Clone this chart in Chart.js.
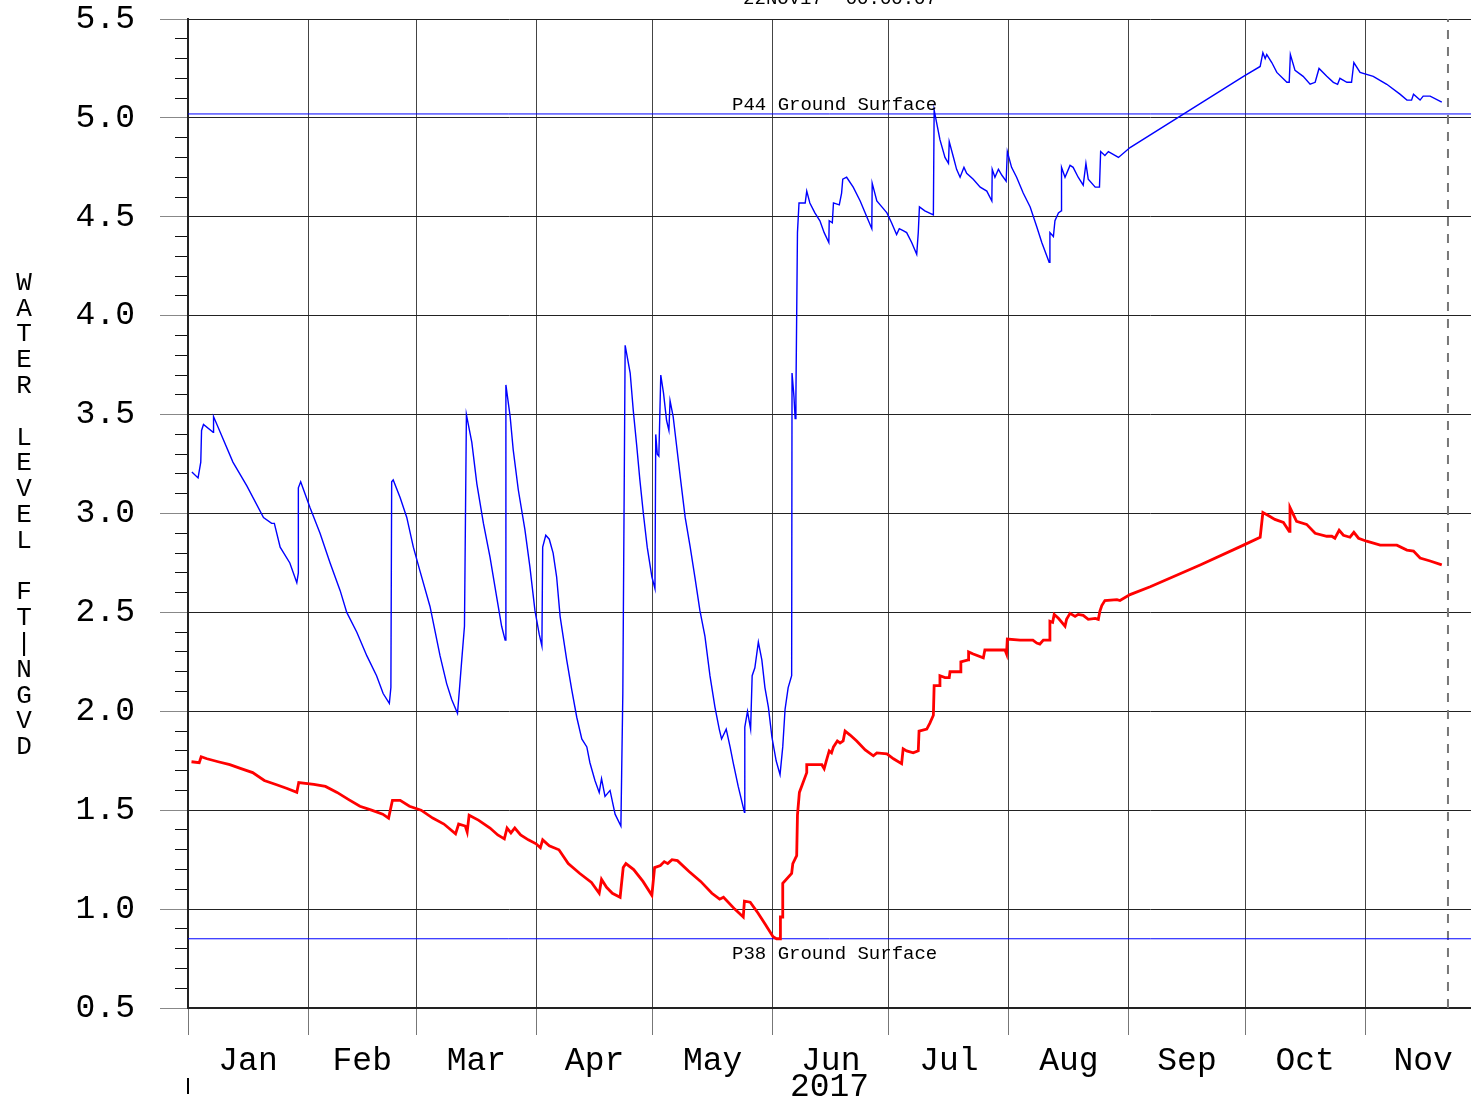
<!DOCTYPE html>
<html>
<head>
<meta charset="utf-8">
<script src="https://cdn.jsdelivr.net/npm/chart.js@4.4.0/dist/chart.umd.min.js"></script>
<style>
html,body{margin:0;padding:0;background:#fff}
canvas{display:block}
</style>
</head>
<body>
<canvas id="c" width="1471" height="1100"></canvas>
<script>
// days are counted from 1 Jan 2017 (day 0)
const monthNames = ['Jan','Feb','Mar','Apr','May','Jun','Jul','Aug','Sep','Oct','Nov']
const monthStarts = [0,31,59,90,120,151,181,212,243,273,304,334]
const yMajor = [0.5,1.0,1.5,2.0,2.5,3.0,3.5,4.0,4.5,5.0,5.5]
const xMax = 331.35
const runStamp = '22NOV17  00:00:07'
const yTitle = 'WATER LEVEL FT-NGVD'
const yearLabel = '2017'

const p44Ground = 5.02
const p38Ground = 0.85
const p44Label = 'P44 Ground Surface'
const p38Label = 'P38 Ground Surface'
const labelDay = 140.5
const cutoffDay = 325.4

const p44Day = [1.0,2.6,3.3,3.5,4.0,6.5,6.6,11.6,15.2,19.5,21.6,22.3,23.8,26.3,28.1,28.5,28.5,29.1,31.5,34.1,36.7,39.3,41.0,43.6,46.2,48.7,50.4,52.0,52.4,52.6,53.0,54.8,56.5,58.2,59.9,62.5,65.1,66.8,68.1,69.6,70.1,70.7,71.4,71.9,73.3,74.6,76.3,78.0,79.7,81.0,81.9,82.1,83.2,84.0,85.3,87.0,88.3,89.6,90.7,91.4,91.6,92.4,93.3,94.3,95.2,96.1,97.8,99.1,100.4,101.7,103.0,103.8,105.1,106.2,106.8,107.7,109.0,110.3,111.8,112.0,112.3,112.9,114.2,115.0,115.9,116.7,117.6,118.6,119.8,120.6,120.8,121.2,121.6,122.1,122.8,123.6,124.2,124.5,125.3,126.2,127.1,128.4,129.7,130.9,132.2,133.5,134.8,136.1,137.2,137.8,139.0,140.0,140.8,142.1,143.7,143.8,144.5,145.3,145.7,146.4,147.3,148.2,149.0,149.9,150.8,151.9,152.9,153.6,154.2,155.0,155.9,156.0,156.5,156.8,157.0,157.4,157.8,159.4,159.8,160.6,161.9,163.2,164.3,165.5,165.6,166.4,166.7,168.2,168.8,169.1,170.1,171.8,173.6,175.3,176.6,176.7,177.9,179.2,180.5,181.7,183.0,183.7,184.7,185.6,186.9,188.2,188.6,188.9,190.3,192.5,192.7,193.5,194.2,195.5,196.4,196.6,197.7,198.5,199.4,200.4,201.1,202.8,204.6,206.3,207.6,207.7,208.4,209.3,210.2,211.3,211.6,212.7,214.0,215.7,217.5,219.2,220.5,222.4,222.6,223.5,223.9,224.8,225.5,225.6,226.5,227.8,228.6,229.9,231.2,231.9,232.5,234.3,235.4,235.7,236.8,237.7,240.3,243.3,272.6,276.9,277.6,278.2,278.6,279.9,281.2,283.8,284.4,284.7,285.9,288.0,289.8,291.1,292.1,294.1,295.8,296.9,297.5,299.3,300.5,301.1,302.7,306.1,309.6,313.0,314.8,316.0,316.5,318.2,319.0,320.8,323.8]
const p44Level = [3.21,3.18,3.26,3.42,3.45,3.41,3.49,3.26,3.14,2.98,2.95,2.95,2.83,2.75,2.65,2.70,3.13,3.16,3.03,2.90,2.75,2.61,2.50,2.40,2.28,2.18,2.09,2.04,2.12,3.16,3.17,3.08,2.98,2.83,2.71,2.53,2.28,2.14,2.06,1.99,2.11,2.26,2.43,3.50,3.36,3.15,2.95,2.78,2.58,2.43,2.36,3.65,3.49,3.32,3.12,2.92,2.73,2.51,2.39,2.33,2.83,2.89,2.87,2.80,2.68,2.48,2.26,2.11,1.97,1.86,1.82,1.74,1.65,1.59,1.66,1.57,1.60,1.48,1.42,1.69,2.09,3.85,3.71,3.52,3.34,3.17,3.00,2.83,2.68,2.62,3.40,3.30,3.29,3.70,3.61,3.47,3.42,3.57,3.49,3.34,3.19,2.98,2.83,2.68,2.51,2.38,2.18,2.02,1.91,1.86,1.91,1.82,1.74,1.62,1.49,1.92,2.00,1.91,2.18,2.22,2.35,2.26,2.12,2.02,1.87,1.75,1.68,1.82,2.01,2.12,2.18,3.71,3.59,3.48,3.59,4.42,4.57,4.57,4.63,4.57,4.52,4.48,4.42,4.37,4.48,4.47,4.57,4.56,4.62,4.69,4.70,4.65,4.58,4.50,4.44,4.67,4.58,4.55,4.52,4.47,4.41,4.44,4.43,4.42,4.37,4.31,4.42,4.55,4.53,4.51,5.04,4.96,4.89,4.80,4.77,4.88,4.80,4.74,4.70,4.75,4.72,4.69,4.65,4.63,4.58,4.74,4.70,4.74,4.71,4.68,4.83,4.75,4.70,4.62,4.55,4.45,4.37,4.27,4.42,4.40,4.48,4.52,4.53,4.75,4.70,4.76,4.75,4.70,4.66,4.77,4.69,4.65,4.65,4.83,4.81,4.83,4.80,4.85,5.21,5.26,5.33,5.30,5.32,5.28,5.23,5.18,5.18,5.32,5.24,5.21,5.17,5.18,5.25,5.21,5.18,5.17,5.20,5.18,5.18,5.28,5.23,5.21,5.17,5.12,5.09,5.09,5.12,5.09,5.11,5.11,5.08]

const p38Day = [0.9,2.9,3.4,4.9,7.8,10.8,13.7,16.7,19.7,22.7,25.6,28.1,28.6,32.5,35.5,38.5,41.4,44.4,47.4,50.3,51.8,52.8,54.8,57.2,60.2,63.2,66.1,69.1,69.9,71.6,72.1,72.6,75.0,78.0,80.0,81.7,82.4,83.4,84.4,85.9,87.9,89.9,91.0,91.6,93.3,95.8,98.2,101.2,104.2,106.2,106.8,108.1,109.6,111.6,112.4,113.1,115.1,117.5,119.8,120.5,122.0,123.0,123.9,125.0,126.4,129.4,132.4,135.3,137.3,138.3,141.2,143.4,143.7,145.2,147.2,149.2,151.1,152.0,152.9,153.0,153.6,153.6,155.9,156.2,157.2,157.4,157.9,159.8,159.8,163.7,164.3,164.8,165.6,166.2,166.7,167.7,168.4,169.2,169.7,171.0,172.7,174.9,177.0,177.9,180.5,182.2,184.3,184.7,185.6,187.3,188.6,188.8,190.8,191.6,192.5,192.7,194.0,194.2,195.5,196.6,196.8,199.4,199.6,201.5,201.6,202.8,205.4,205.8,211.0,211.4,211.6,214.9,218.2,219.2,220.0,220.9,222.4,222.6,223.3,223.7,224.8,226.5,226.9,227.8,229.1,229.9,231.2,232.5,234.3,235.1,235.5,236.0,236.8,239.9,240.7,243.3,248.5,261.4,272.6,276.9,277.6,279.0,280.7,282.9,284.4,284.6,286.3,288.9,291.1,294.1,295.4,296.2,297.3,298.4,300.1,301.1,302.3,304.4,307.9,312.2,314.8,316.5,318.2,320.8,323.8]
const p38Level = [1.745,1.74,1.77,1.76,1.745,1.73,1.71,1.69,1.65,1.63,1.61,1.59,1.64,1.63,1.62,1.59,1.555,1.52,1.50,1.48,1.46,1.55,1.55,1.52,1.50,1.46,1.43,1.38,1.43,1.42,1.39,1.475,1.45,1.41,1.375,1.355,1.41,1.385,1.41,1.375,1.35,1.33,1.31,1.35,1.32,1.30,1.23,1.18,1.135,1.08,1.15,1.11,1.08,1.06,1.21,1.23,1.20,1.14,1.07,1.21,1.22,1.24,1.23,1.25,1.245,1.19,1.14,1.08,1.05,1.06,1.00,0.96,1.04,1.035,0.98,0.92,0.86,0.85,0.85,0.96,0.96,1.13,1.18,1.23,1.27,1.475,1.59,1.69,1.73,1.73,1.71,1.745,1.80,1.79,1.82,1.85,1.84,1.85,1.90,1.88,1.85,1.805,1.775,1.79,1.785,1.76,1.735,1.81,1.80,1.79,1.80,1.90,1.91,1.94,1.98,2.13,2.13,2.18,2.17,2.17,2.20,2.20,2.25,2.26,2.30,2.29,2.27,2.31,2.31,2.29,2.365,2.36,2.36,2.345,2.34,2.36,2.36,2.455,2.45,2.49,2.47,2.43,2.465,2.495,2.48,2.49,2.485,2.465,2.47,2.465,2.505,2.535,2.56,2.565,2.56,2.59,2.63,2.74,2.84,2.88,3.005,2.99,2.97,2.955,2.91,3.03,2.96,2.945,2.90,2.885,2.885,2.875,2.915,2.89,2.88,2.905,2.875,2.86,2.84,2.84,2.815,2.81,2.775,2.76,2.74]

function pairs(xs, ys){ return xs.map((x,i)=>({x:x, y:ys[i]})) }
const monthMids = monthNames.map((m,i)=>(monthStarts[i]+monthStarts[i+1])/2)
const yMinorTicks = []
for(let i=0;i<=50;i++){ yMinorTicks.push(Math.round((0.5+i*0.1)*10)/10) }
function isMajor(v){ return Math.abs(v*2-Math.round(v*2))<1e-6 }
function noPad(s){ s.paddingTop = 0; s.paddingBottom = 0; s.paddingLeft = 0; s.paddingRight = 0 }

const MONO = '"Liberation Mono", "Courier New", monospace'

const decor = {
  id:'decor',
  afterDraw(chart){
    const ctx = chart.ctx, x = chart.scales.x, y = chart.scales.y
    ctx.save()
    ctx.fillStyle = '#000'
    ctx.font = '19px ' + MONO
    ctx.textAlign = 'center'
    ctx.textBaseline = 'alphabetic'
    ctx.fillText(runStamp, 840, 4)
    ctx.textAlign = 'left'
    ctx.fillText(p44Label, x.getPixelForValue(labelDay), y.getPixelForValue(p44Ground) - 4)
    ctx.fillText(p38Label, x.getPixelForValue(labelDay), y.getPixelForValue(p38Ground) + 20)
    // stacked y title, hyphen shows as a bar
    ctx.font = '26px ' + MONO
    ctx.textAlign = 'center'
    ctx.textBaseline = 'middle'
    yTitle.split('').forEach((ch,i)=>{
      ctx.fillText(ch === '-' ? '|' : ch, 24, 283 + i*25.8)
    })
    ctx.fillRect(187, 1078, 2, 16)
    ctx.restore()
  }
}

new Chart(document.getElementById('c').getContext('2d'), {
  type:'line',
  data:{
    datasets:[
      {label:'P38', data:pairs(p38Day, p38Level), borderColor:'#ff0000', borderWidth:2.8, pointRadius:0, tension:0},
      {label:'P44', data:pairs(p44Day, p44Level), borderColor:'#0000ff', borderWidth:1.4, pointRadius:0, tension:0},
      {label:p44Label, data:[{x:0,y:p44Ground},{x:xMax,y:p44Ground}], borderColor:'#0000ff', borderWidth:1, pointRadius:0},
      {label:p38Label, data:[{x:0,y:p38Ground},{x:xMax,y:p38Ground}], borderColor:'#0000ff', borderWidth:1, pointRadius:0},
      {label:'cutoff', data:[{x:cutoffDay,y:0.5},{x:cutoffDay,y:5.5}], borderColor:'#777', borderWidth:2, borderDash:[9,8], pointRadius:0}
    ]
  },
  options:{
    responsive:false,
    animation:false,
    devicePixelRatio:1,
    layout:{padding:{top:19, left:0, right:0, bottom:0}},
    plugins:{legend:{display:false}, tooltip:{enabled:false}},
    scales:{
      x:{
        type:'linear', min:0, max:xMax, position:'bottom', weight:0,
        afterBuildTicks:s=>{ s.ticks = monthStarts.slice(0,11).map(v=>({value:v})) },
        ticks:{display:false},
        grid:{color:'#444', lineWidth:1, tickLength:27, tickColor:'#777'},
        border:{display:true, color:'#222', width:2},
        afterFit:s=>{ s.height = 27; noPad(s) }
      },
      xLabels:{
        type:'linear', min:0, max:xMax, position:'bottom', weight:1,
        afterBuildTicks:s=>{ s.ticks = monthMids.map(v=>({value:v})) },
        ticks:{autoSkip:false, maxRotation:0, minRotation:0, padding:6, color:'#000',
          font:{family:MONO, size:33}, callback:(v,i)=>monthNames[i]},
        grid:{display:false, drawTicks:false},
        border:{display:false},
        title:{display:true, text:yearLabel, color:'#000', font:{family:MONO, size:33, lineHeight:0.8}, padding:{top:0, bottom:0}},
        afterFit:s=>{ s.height = 65; noPad(s) }
      },
      y:{
        type:'linear', min:0.5, max:5.5, position:'left', weight:1,
        afterBuildTicks:s=>{ s.ticks = yMajor.map(v=>({value:v})) },
        ticks:{padding:25, color:'#000', font:{family:MONO, size:33}, callback:v=>v.toFixed(1)},
        grid:{color:'#222', lineWidth:1, tickLength:28, tickColor:'#888'},
        border:{color:'#222', width:2},
        afterFit:s=>{ s.width = 188; noPad(s) }
      },
      yMinor:{
        type:'linear', min:0.5, max:5.5, position:'left', weight:0,
        afterBuildTicks:s=>{ s.ticks = yMinorTicks.map(v=>({value:v})) },
        ticks:{display:false},
        grid:{drawOnChartArea:false, tickLength:13,
          tickColor:c=> (c.tick && isMajor(c.tick.value)) ? 'rgba(0,0,0,0)' : '#111'},
        border:{display:false},
        afterFit:s=>{ s.width = 0; noPad(s) }
      }
    }
  },
  plugins:[decor]
})
</script>
</body>
</html>
